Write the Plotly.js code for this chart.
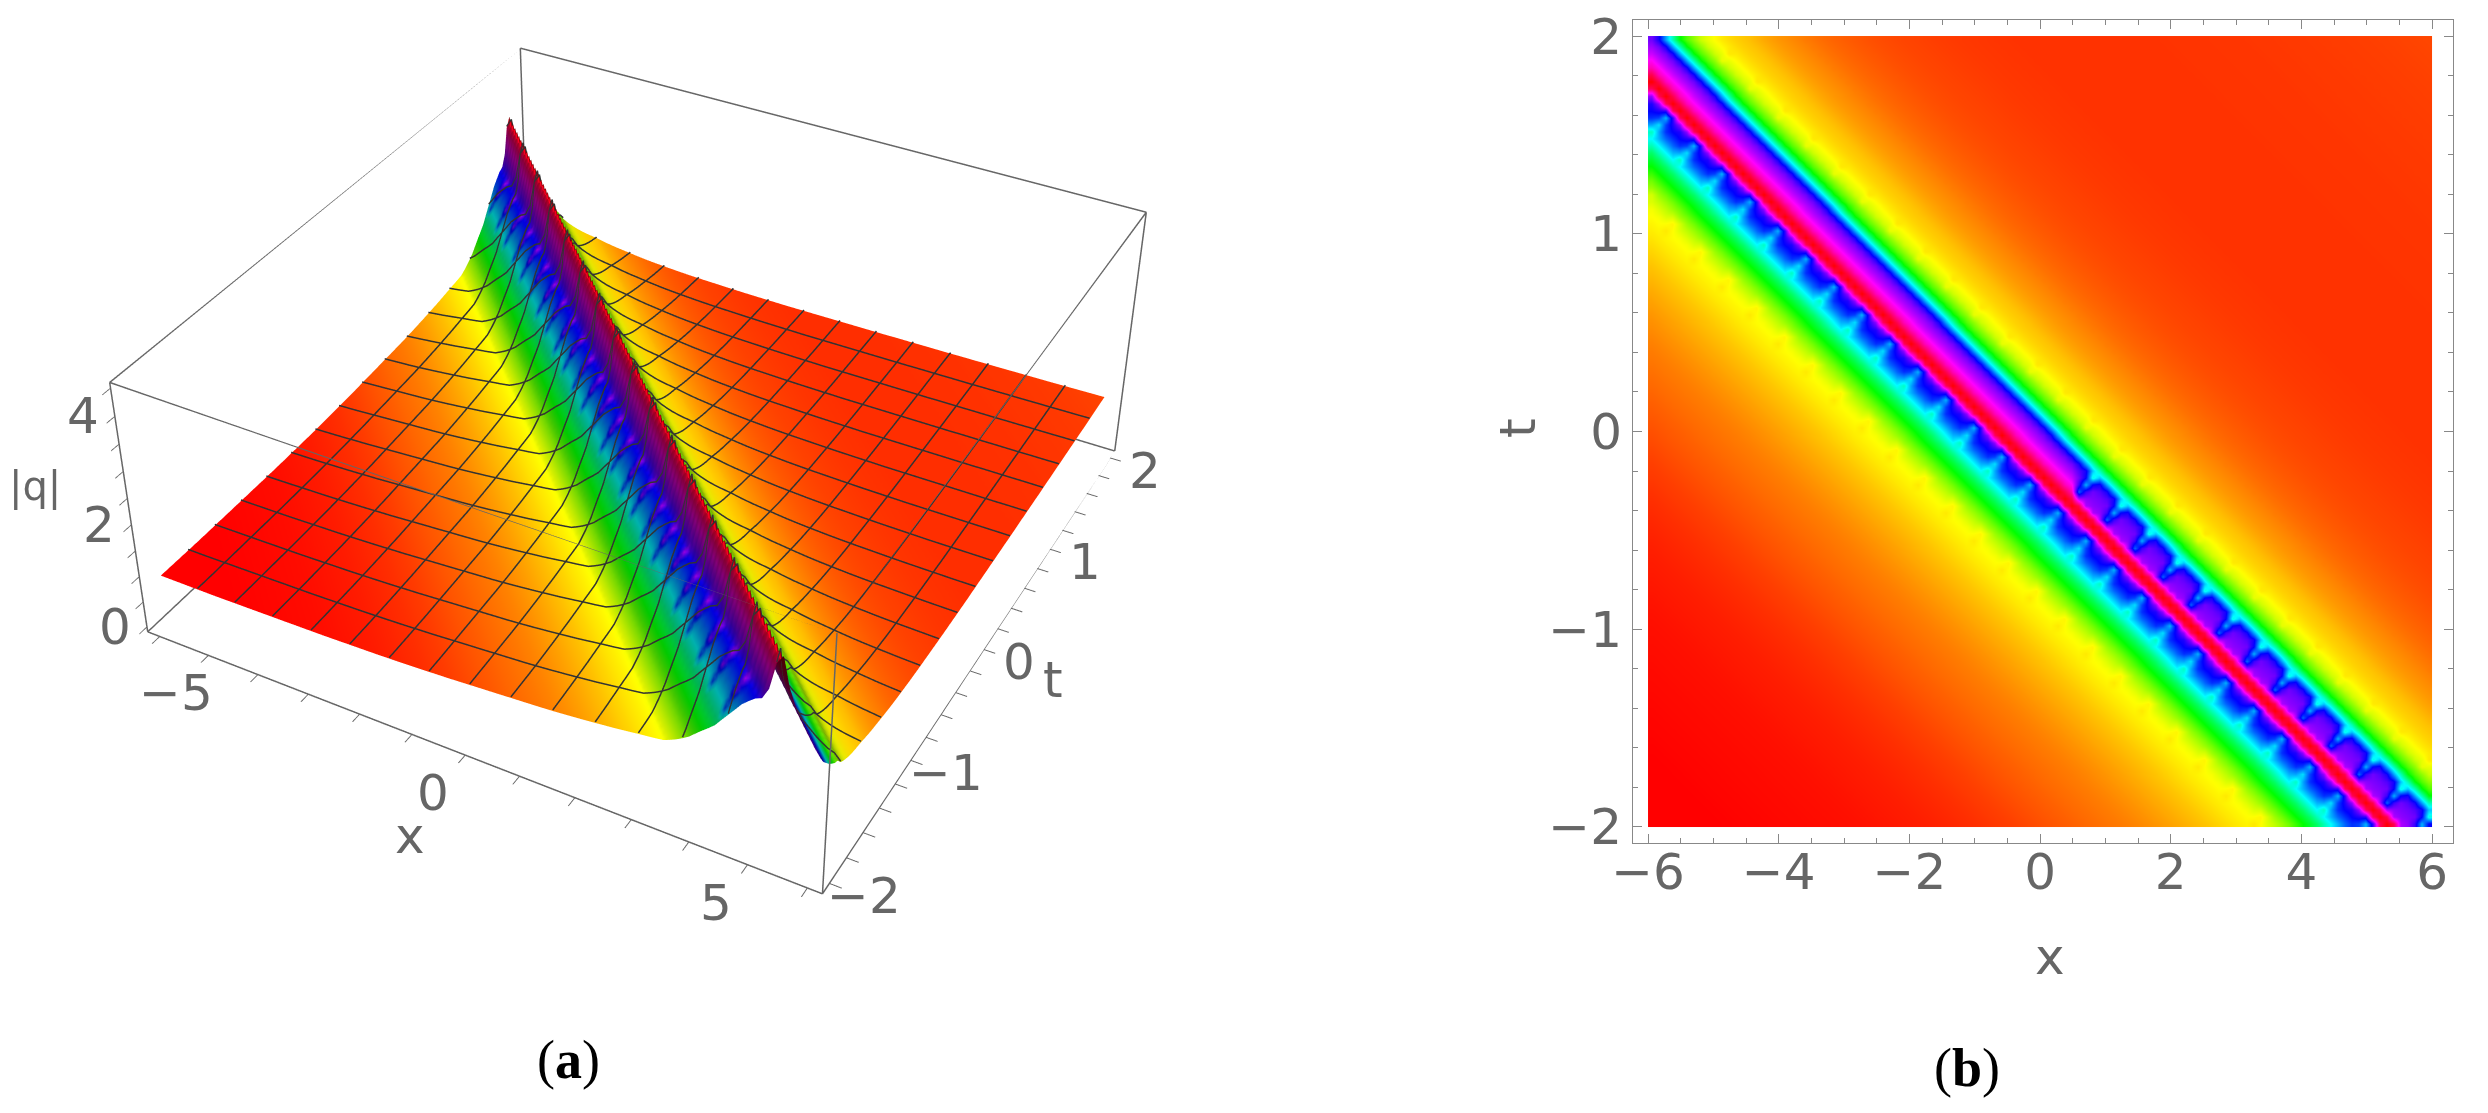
<!DOCTYPE html>
<html>
<head>
<meta charset="utf-8">
<script src="https://cdn.plot.ly/plotly-3.0.1.min.js"></script>
<style>
html,body{margin:0;padding:0;background:#fff;overflow:hidden;width:2488px;height:1113px}
#surface{position:absolute;left:-127px;top:-648px;width:1560px;height:2135px;z-index:1}
#chart{position:absolute;left:0;top:0;width:2488px;height:1113px;z-index:2}
</style>
</head>
<body>
<div id="surface"></div>
<div id="chart"></div>
<script>
// |q| read across the ridge, one value per step of x + 3t (crest at entry 106)
const ridgeProfile = [
  0.95,0.95,0.95,0.95,0.95,0.95,0.95,0.95,0.95,0.95,
  0.95,0.951,0.952,0.954,0.956,0.957,0.958,0.959,0.961,0.962,
  0.964,0.965,0.966,0.967,0.969,0.971,0.972,0.973,0.975,0.976,
  0.978,0.98,0.983,0.985,0.989,0.991,0.994,0.997,0.999,1.002,
  1.005,1.009,1.013,1.017,1.021,1.026,1.03,1.035,1.04,1.046,
  1.052,1.057,1.062,1.069,1.076,1.083,1.09,1.097,1.104,1.111,
  1.117,1.124,1.131,1.139,1.145,1.152,1.159,1.166,1.172,1.181,
  1.189,1.199,1.209,1.219,1.231,1.241,1.253,1.265,1.278,1.29,
  1.302,1.317,1.332,1.347,1.363,1.377,1.39,1.406,1.423,1.471,
  1.525,1.59,1.664,1.763,1.861,1.951,2.05,2.19,2.325,2.461,
  2.6,2.699,2.789,2.838,3.044,3.536,3.7,3.561,3.37,3.26,
  3.15,3.07,2.985,2.82,2.49,2.19,1.885,1.72,1.61,1.5,
  1.445,1.404,1.37,1.345,1.325,1.31,1.295,1.274,1.254,1.237,
  1.221,1.209,1.196,1.183,1.17,1.159,1.147,1.138,1.129,1.122,
  1.114,1.108,1.102,1.095,1.09,1.085,1.081,1.077,1.073,1.071,
  1.068,1.065,1.062,1.059,1.057,1.054,1.052,1.05,1.049,1.047,
  1.046,1.044,1.044,1.042,1.04,1.04,1.04,1.04,1.04,1.04,
  1.04,1.04,1.04,1.04,1.04,1.04,1.04,1.04,1.04,1.04,
  1.04,1.04,1.04,1.04,1.04,1.042,1.043,1.043,1.043,1.043,
  1.043,1.044,1.045,1.045,1.045,1.045,1.045,1.047,1.049,1.049,
  1.049,1.05,1.052,1.052,1.052,1.053,1.054,1.055,1.057,1.057,
  1.057,1.059,1.06,1.061,1.062,1.063,1.065,1.066,1.068,1.07,
  1.071,1.073,1.075,1.076,1.078
];
// the far side of the crest drops faster on the 3D surface than its colours suggest
const farFlankEntries = [107, 108, 109, 110, 111, 112, 113, 114, 115, 116, 117];
const farFlankHeights = [3.2, 2.9, 2.7, 2.5, 2.3, 2.15, 2.0, 1.9, 1.8, 1.72, 1.65];
// streaks across the ridge on the density plot: entry of ridgeProfile and the value on the streak
const lowerTickEntries = [103, 101, 99];
const lowerTickValues = [2.46, 2.38, 2.215];
const upperTickEntries = [109, 111, 113];
const upperTickValues = [2.6, 2.46, 2.27];
const upperTicksFromX = 0.5;
// right of that x the band above the crest is plain purple
const upperBandEntries = [108, 109, 110, 111, 112];
const upperBandValues = [3.095, 3.04, 3.01, 2.985, 2.93];
const bumpEntries = [87, 89, 119, 121];
const bumpValues = [1.37, 1.39, 1.45, 1.37];
// streaks on the surface colouring
const surfaceStreakEntries = [98, 100, 102];
const surfaceStreakValues = [2.655, 3.01, 3.095];

const gridCells = 112, meshEvery = 7;
const xRange = [-6, 6];
const tRange = [-2, 2];
const xBox = [-6.25, 6.25];
const tBox = [-2.08, 2.08];
const qBox = [-0.1, 4.6];
const xTickText = [-5, 0, 5];
const tTickText = [-2, -1, 0, 1, 2];
const qTickText = [0, 2, 4];
const hueScale = [[0,'#ff0000'],[1/6,'#ffff00'],[1/3,'#00ff00'],[1/2,'#00ffff'],[2/3,'#0000ff'],[5/6,'#ff00ff'],[1,'#ff0000']];
const qMin = 0.95, qMax = 3.7;

const gray = '#666666';
const tickFont = {family: 'DejaVu Sans', size: 50, color: gray};

function steps(range, n) {
  const out = [];
  for (let i = 0; i <= n; i++) out.push(range[0] + i * (range[1] - range[0]) / n);
  return out;
}
const xNodes = steps(xRange, gridCells), tNodes = steps(tRange, gridCells);

function surfaceHeight(m) {
  const f = farFlankEntries.indexOf(m);
  return f >= 0 ? farFlankHeights[f] : ridgeProfile[m];
}

// value on a streak: full on the streak's own diagonal, a little on the two next to it
function onStreak(base, m, phase, entries, values) {
  if (phase === 0) {
    const a = entries.indexOf(m);
    return a >= 0 ? values[a] : base;
  }
  if (phase === 1 || phase === 7) {
    const b = entries.indexOf(m - 1);
    return b >= 0 ? base + 0.3 * (values[b] - base) : base;
  }
  return base;
}

// surface: one node per grid crossing
const heightRows = [], surfaceColors = [];
for (let j = 0; j <= gridCells; j++) {
  const hr = [], cr = [];
  for (let i = 0; i <= gridCells; i++) {
    const m = i + j;
    hr.push(surfaceHeight(m));
    const phase = ((i - j) % 8 + 8) % 8;
    cr.push(onStreak(ridgeProfile[m], m, phase, surfaceStreakEntries, surfaceStreakValues));
  }
  heightRows.push(hr);
  surfaceColors.push(cr);
}
// density plot: one value per grid cell
const heatRows = [];
for (let j = 0; j < gridCells; j++) {
  const row = [];
  for (let i = 0; i < gridCells; i++) {
    const m = i + j + 1;
    const phase = ((i - j + 2) % 8 + 8) % 8;
    let v = ridgeProfile[m];
    if (xNodes[i] > upperTicksFromX) {
      const u = upperBandEntries.indexOf(m);
      if (u >= 0) v = upperBandValues[u];
      v = onStreak(v, m, phase, upperTickEntries, upperTickValues);
    }
    v = onStreak(v, m, phase, lowerTickEntries, lowerTickValues);
    v = onStreak(v, m, phase, bumpEntries, bumpValues);
    row.push(v);
  }
  heatRows.push(row);
}

const surfaceTrace = {
  type: 'surface', x: xNodes, y: tNodes, z: heightRows, surfacecolor: surfaceColors,
  colorscale: hueScale, cmin: qMin, cmax: qMax, showscale: false, hoverinfo: 'skip',
  lighting: {ambient: 0.3, diffuse: 0.78, specular: 0, roughness: 1, fresnel: 0},
  lightposition: {x: 3500, y: 1000, z: 8700}
};
// mesh lines run along grid lines, so their heights come straight from the profile
const meshLift = 0.02;
const meshX = [], meshY = [], meshZ = [];
for (let n = meshEvery; n < gridCells; n += meshEvery) {
  for (let b = 0; b <= gridCells; b++) {
    meshX.push(xNodes[n]); meshY.push(tNodes[b]); meshZ.push(surfaceHeight(n + b) + meshLift);
  }
  meshX.push(null); meshY.push(null); meshZ.push(null);
  for (let a = 0; a <= gridCells; a++) {
    meshX.push(xNodes[a]); meshY.push(tNodes[n]); meshZ.push(surfaceHeight(a + n) + meshLift);
  }
  meshX.push(null); meshY.push(null); meshZ.push(null);
}
const meshTrace = {
  type: 'scatter3d', mode: 'lines', x: meshX, y: meshY, z: meshZ, hoverinfo: 'skip',
  line: {color: '#333333', width: 3}, connectgaps: false
};
// box edges, taken from the axis ranges
const boxX = [], boxY = [], boxZ = [];
function edge(a, b) {
  boxX.push(a[0], b[0], null); boxY.push(a[1], b[1], null); boxZ.push(a[2], b[2], null);
}
[0, 1].forEach(p => [0, 1].forEach(q => {
  edge([xBox[0], tBox[p], qBox[q]], [xBox[1], tBox[p], qBox[q]]);
  edge([xBox[p], tBox[0], qBox[q]], [xBox[p], tBox[1], qBox[q]]);
  edge([xBox[p], tBox[q], qBox[0]], [xBox[p], tBox[q], qBox[1]]);
}));
const boxTrace = {
  type: 'scatter3d', mode: 'lines', x: boxX, y: boxY, z: boxZ, hoverinfo: 'skip',
  line: {color: '#666666', width: 3}, connectgaps: false
};
const heatTrace = {
  type: 'heatmap', x: xNodes, y: tNodes, z: heatRows,
  colorscale: hueScale, zmin: qMin, zmax: qMax, zsmooth: 'best', showscale: false, hoverinfo: 'skip'
};

function sceneAxis(range, dtick) {
  return {
    range: range, autorange: false, dtick: dtick, title: {text: ''}, showticklabels: false,
    showgrid: false, zeroline: false, showbackground: false, showspikes: false,
    showline: false, ticks: 'outside', ticklen: 10, tickwidth: 2, tickcolor: '#666666'
  };
}

function note(x, y, z, text, xshift, yshift) {
  return {x: x, y: y, z: z, text: String(text).replace('-', '\u2212'), showarrow: false, font: tickFont,
    xanchor: 'center', yanchor: 'middle', xshift: xshift, yshift: yshift};
}
const sceneNotes = [];
xTickText.forEach(v => sceneNotes.push(note(v, tBox[0], qBox[0], v, -32, -38)));
tTickText.forEach(v => sceneNotes.push(note(xBox[1], v, qBox[0], v, 35, -13)));
qTickText.forEach(v => sceneNotes.push(note(xBox[0], tBox[0], v, v, -32, 0)));

function paperNote(x, y, text, font, angle) {
  return {xref: 'paper', yref: 'paper', x: x / 2488, y: 1 - y / 1113, text: text, showarrow: false, font: font,
    xanchor: 'center', yanchor: 'middle', textangle: angle || 0};
}
const serif = {family: 'Liberation Serif', size: 54, color: '#000'};

const surfaceLayout = {
  width: 1560, height: 2135, margin: {l: 0, r: 0, t: 0, b: 0}, paper_bgcolor: 'rgba(0,0,0,0)',
  showlegend: false,
  scene: {
    domain: {x: [0, 1], y: [0, 1]},
    aspectmode: 'manual', aspectratio: {x: 1, y: 1, z: 0.41},
    camera: {
      eye: {x: 1.343, y: -2.484, z: 2.065},
      center: {x: 0, y: 0, z: 0},
      up: {x: 0, y: 0, z: 1}
    },
    xaxis: sceneAxis(xBox, 1),
    yaxis: sceneAxis(tBox, 0.2),
    zaxis: sceneAxis(qBox, 0.5),
    annotations: sceneNotes
  }
};

const chartLayout = {
  width: 2488, height: 1113, margin: {l: 0, r: 0, t: 0, b: 0}, paper_bgcolor: 'rgba(0,0,0,0)', plot_bgcolor: '#fff',
  showlegend: false,
  xaxis: {
    domain: [1633 / 2488, 2453 / 2488], anchor: 'y', range: [-6.23, 6.32], tickvals: [-6,-4,-2,0,2,4,6],
    ticks: 'inside', ticklen: 9, tickcolor: '#888', showline: true, mirror: 'ticks', linecolor: '#888', linewidth: 1,
    showgrid: false, zeroline: false, tickfont: tickFont, ticklabelstandoff: -15,
    minor: {dtick: 0.5, ticks: 'inside', ticklen: 5, tickcolor: '#888', showgrid: false}
  },
  yaxis: {
    domain: [1 - 843 / 1113, 1 - 20 / 1113], anchor: 'x', range: [-2.081, 2.081], tickvals: [-2,-1,0,1,2],
    ticks: 'inside', ticklen: 9, tickcolor: '#888', showline: true, mirror: 'ticks', linecolor: '#888', linewidth: 1,
    showgrid: false, zeroline: false, tickfont: tickFont,
    minor: {dtick: 0.2, ticks: 'inside', ticklen: 5, tickcolor: '#888', showgrid: false}
  },
  annotations: [
    paperNote(568, 1060, '(<b>a</b>)', serif),
    paperNote(1967, 1068, '(<b>b</b>)', serif),
    paperNote(35, 487, '|q|', {family: 'DejaVu Sans', size: 40, color: gray}),
    paperNote(410, 836, 'x', tickFont),
    paperNote(1053, 680, 't', tickFont),
    paperNote(2050, 957, 'x', tickFont),
    paperNote(1518, 428, 't', tickFont, -90)
  ]
};

Plotly.newPlot('surface', [surfaceTrace, meshTrace, boxTrace], surfaceLayout, {displayModeBar: false});
Plotly.newPlot('chart', [heatTrace], chartLayout, {displayModeBar: false});
</script>
</body>
</html>
